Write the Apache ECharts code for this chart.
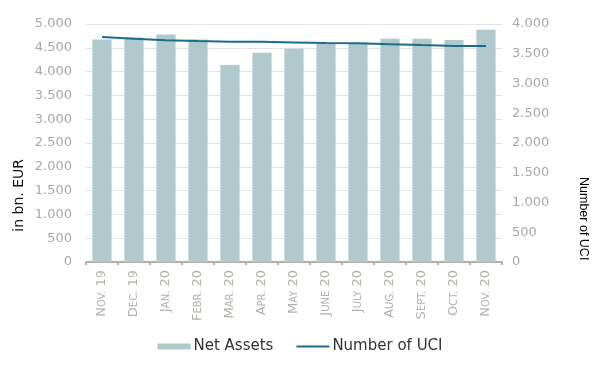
<!DOCTYPE html>
<html>
<head>
<meta charset="utf-8">
<script src="https://cdn.jsdelivr.net/npm/echarts@6/dist/echarts.min.js"></script>
<style>
	html, body { margin: 0; padding: 0; background: #fff; }
	#main { width: 600px; height: 375px; }
</style>
</head>
<body>
<div id="main"></div>
<script>
// month labels (drawn as small caps), years
var months = ['Nov.', 'Dec.', 'Jan.', 'Febr.', 'Mar.', 'Apr.', 'May', 'June', 'July', 'Aug.', 'Sept.', 'Oct.', 'Nov.'];
var years = ['19', '19', '20', '20', '20', '20', '20', '20', '20', '20', '20', '20', '20'];
var netAssets = [4672, 4714, 4781, 4672, 4139, 4398, 4482, 4580, 4590, 4690, 4690, 4664, 4880];
var numberUci = [3780, 3752, 3725, 3713, 3703, 3700, 3690, 3680, 3675, 3660, 3645, 3632, 3630];

var categories = months.map(function (m, i) { return m + ' ' + years[i]; });

function fmtNum(v) {
	// 1500 -> 1.500
	return String(v).replace(/\B(?=(\d{3})+(?!\d))/g, '.');
}

var myChart = echarts.init(document.getElementById('main'));
var tickColor = '#aaa8a5';
var catColor = '#b5b0aa';
var option = {
	animation: false,
	textStyle: { fontFamily: 'DejaVu Sans' },
	grid: { left: 86, right: 98, top: 24, bottom: 113 },
	legend: {
		bottom: 16,
		left: 'center',
		itemGap: 22,
		itemWidth: 33,
		itemHeight: 6,
		textStyle: { fontSize: 15, color: '#333', fontFamily: 'DejaVu Sans', padding: [0, 0, 0, -2] },
		data: [
			{ name: 'Net Assets', icon: 'rect' },
			{
				name: 'Number of UCI',
				itemStyle: { opacity: 0, borderWidth: 0 },
				lineStyle: { color: '#1c6b8a', width: 2, opacity: 1 }
			}
		]
	},
	xAxis: {
		type: 'category',
		data: categories,
		axisLine: { lineStyle: { color: '#b8b0a4', width: 2 } },
		axisTick: { show: true, length: 3, lineStyle: { color: '#b8b0a4', width: 2 } },
		axisLabel: {
			rotate: 90,
			margin: 8,
			color: catColor,
			interval: 0,
			formatter: function (v, i) {
				var m = months[i];
				return '{a|' + m.charAt(0) + '}{b|' + m.slice(1).toUpperCase() + '}{a| ' + years[i] + '}';
			},
			rich: {
				a: { fontSize: 13, color: catColor, fontFamily: 'DejaVu Sans' },
				b: { fontSize: 10, color: catColor, fontFamily: 'DejaVu Sans' }
			}
		}
	},
	yAxis: [{
		type: 'value',
		min: 0,
		max: 5000,
		interval: 500,
		axisLine: { show: false },
		axisTick: { show: false },
		splitLine: { lineStyle: { color: '#e2e2e2', width: 1 } },
		axisLabel: {
			color: tickColor,
			fontSize: 13,
			margin: 14,
			formatter: fmtNum
		}
	}, {
		type: 'value',
		min: 0,
		max: 4000,
		interval: 500,
		axisLine: { show: false },
		axisTick: { show: false },
		splitLine: { show: false },
		axisLabel: {
			color: tickColor,
			fontSize: 13,
			margin: 10,
			formatter: fmtNum
		}
	}],
	graphic: [{
		type: 'text',
		left: 12,
		top: 159,
		rotation: Math.PI / 2,
		style: { text: 'in bn. EUR', fontSize: 14, fill: '#111', fontFamily: 'DejaVu Sans' }
	}, {
		type: 'text',
		left: 577,
		top: 177,
		rotation: -Math.PI / 2,
		style: { text: 'Number of UCI', fontSize: 12.5, fill: '#000', fontFamily: 'Liberation Sans' }
	}],
	series: [{
		name: 'Net Assets',
		type: 'bar',
		barWidth: '60%',
		itemStyle: { color: '#b0c9cd' },
		data: netAssets
	}, {
		name: 'Number of UCI',
		type: 'line',
		yAxisIndex: 1,
		showSymbol: false,
		symbol: 'none',
		lineStyle: { color: '#1c6b8a', width: 2 },
		itemStyle: { color: '#1c6b8a' },
		data: numberUci
	}]
};
myChart.setOption(option);
</script>
</body>
</html>
